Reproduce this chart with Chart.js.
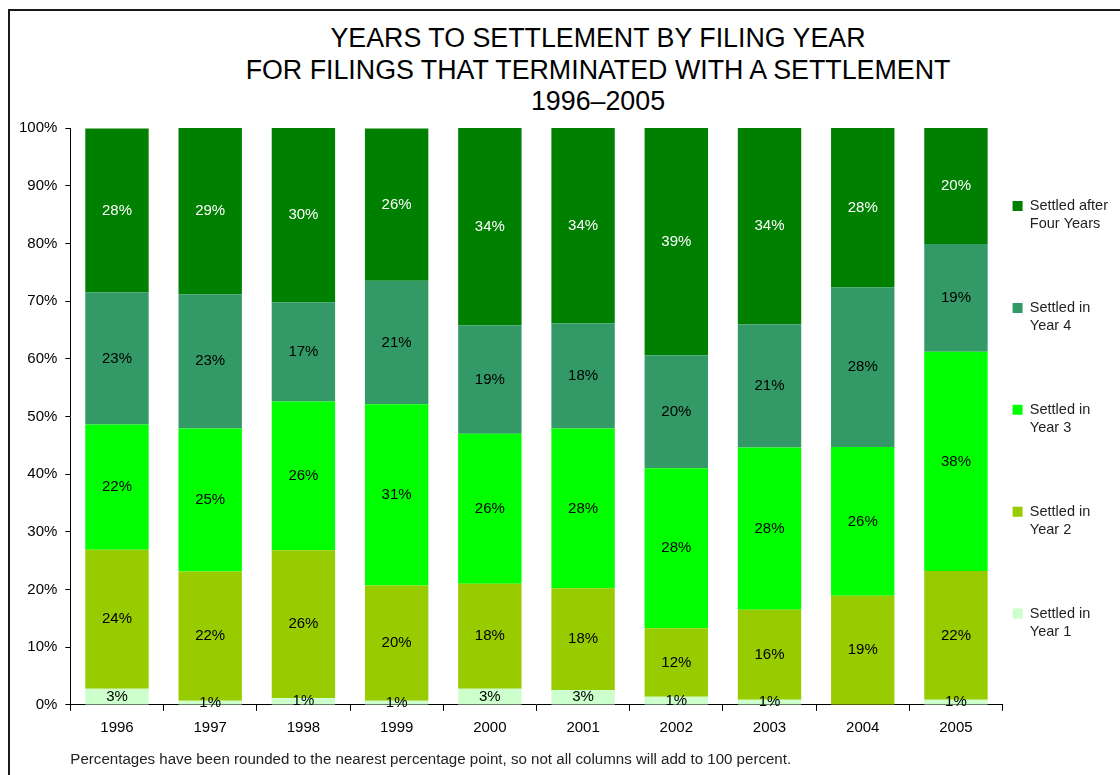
<!DOCTYPE html>
<html>
<head>
<meta charset="utf-8">
<script src="https://cdn.jsdelivr.net/npm/chart.js@4/dist/chart.umd.min.js"></script>
<style>
  html, body { margin: 0; padding: 0; background: #fff; overflow: hidden; width: 1120px; height: 775px; }
  #frame { position: absolute; left: 8px; top: 9px; width: 1220px; height: 800px; border: 2px solid #1a1a1a; }
  #title {
    position: absolute; left: 0; top: 12px; width: 1176px; text-align: center;
    font: 26.8px/31.5px 'Liberation Sans', Arial, sans-serif; color: #000;
  }
  #chart { position: absolute; left: 0; top: 0; }
</style>
</head>
<body>
<div id="frame">
  <div id="title">YEARS TO SETTLEMENT BY FILING YEAR<br>FOR FILINGS THAT TERMINATED WITH A SETTLEMENT<br>1996–2005</div>
  <canvas id="chart" width="1110" height="770"></canvas>
</div>
<script>
const years    = ['1996', '1997', '1998', '1999', '2000', '2001', '2002', '2003', '2004', '2005'];
const yTicks   = [0, 10, 20, 30, 40, 50, 60, 70, 80, 90, 100];

// percent of settled filings (bottom to top)
const year1     = [2.8, 0.7, 1.2, 0.7, 2.8, 2.6, 1.4, 0.9, 0, 0.9];
const year2     = [24.1, 22.4, 25.6, 20.0, 18.2, 17.6, 11.9, 15.6, 18.9, 22.3];
const year3     = [21.7, 24.8, 25.8, 31.4, 26.0, 27.7, 27.7, 28.1, 25.8, 38.0];
const year4     = [22.9, 23.3, 17.2, 21.4, 18.8, 18.2, 19.6, 21.4, 27.7, 18.7];
const afterFour = [28.4, 28.9, 30.2, 26.4, 34.2, 33.9, 39.4, 34.0, 27.6, 20.1];

const seriesNames  = ['Settled in Year 1', 'Settled in Year 2', 'Settled in Year 3', 'Settled in Year 4', 'Settled after Four Years'];
const legendLines  = [['Settled in', 'Year 1'], ['Settled in', 'Year 2'], ['Settled in', 'Year 3'], ['Settled in', 'Year 4'], ['Settled after', 'Four Years']];
const seriesColors = ['#ccffcc', '#99cc00', '#00ff00', '#339966', '#008000'];
const labelColors  = ['#000', '#000', '#000', '#000', '#fff'];
const footnote = 'Percentages have been rounded to the nearest percentage point, so not all columns will add to 100 percent.';

const FONT = "'Liberation Sans', Arial, sans-serif";
Chart.defaults.font.family = FONT;

// percent labels centred in each segment
const segmentLabels = {
  id: 'segmentLabels',
  afterDatasetsDraw(chart) {
    const ctx = chart.ctx;
    ctx.save();
    ctx.font = `15px ${FONT}`;
    ctx.textAlign = 'center';
    ctx.textBaseline = 'middle';
    chart.data.datasets.forEach((ds, i) => {
      chart.getDatasetMeta(i).data.forEach((bar, j) => {
        const v = ds.data[j];
        if (!v) return;
        ctx.fillStyle = labelColors[i];
        ctx.fillText(Math.round(v) + '%', bar.x, (bar.y + bar.base) / 2);
      });
    });
    ctx.restore();
  }
};

const series = [year1, year2, year3, year4, afterFour];

new Chart(document.getElementById('chart'), {
  type: 'bar',
  data: {
    labels: years,
    datasets: series.map((d, i) => ({
      label: seriesNames[i],
      data: d,
      backgroundColor: seriesColors[i],
      borderWidth: 0,
      barPercentage: 0.68,
      categoryPercentage: 1.0
    }))
  },
  options: {
    responsive: false,
    animation: false,
    devicePixelRatio: 1,
    layout: { padding: { left: 1, right: 2, top: 117, bottom: 12 } },
    plugins: {
      tooltip: { enabled: false },
      legend: {
        position: 'right',
        align: 'center',
        reverse: true,
        labels: {
          boxWidth: 10, boxHeight: 10, padding: 10,
          color: '#222',
          font: { size: 14.5, lineHeight: 1.2676 },
          generateLabels: chart =>
            Chart.defaults.plugins.legend.labels.generateLabels(chart).map((item, i) => ({
              ...item, text: legendLines[i].concat(['', '', '']), lineWidth: 0
            }))
        }
      }
    },
    scales: {
      x: {
        stacked: true,
        grid: { offset: true, drawOnChartArea: false, tickLength: 6, color: '#000' },
        border: { color: '#000' },
        ticks: { color: '#000', font: { size: 15 }, padding: 8 },
        title: {
          display: true, text: footnote, align: 'start', color: '#222',
          font: { size: 15.1 }, padding: { top: 6, bottom: 0 }
        }
      },
      y: {
        stacked: true,
        min: 0, max: 100,
        afterBuildTicks: s => { s.ticks = yTicks.map(v => ({ value: v })); },
        grid: { drawOnChartArea: false, tickLength: 5, color: '#000' },
        border: { color: '#000' },
        ticks: { color: '#000', font: { size: 15 }, padding: 8, callback: v => v + '%' }
      }
    }
  },
  plugins: [segmentLabels]
});
</script>
</body>
</html>
